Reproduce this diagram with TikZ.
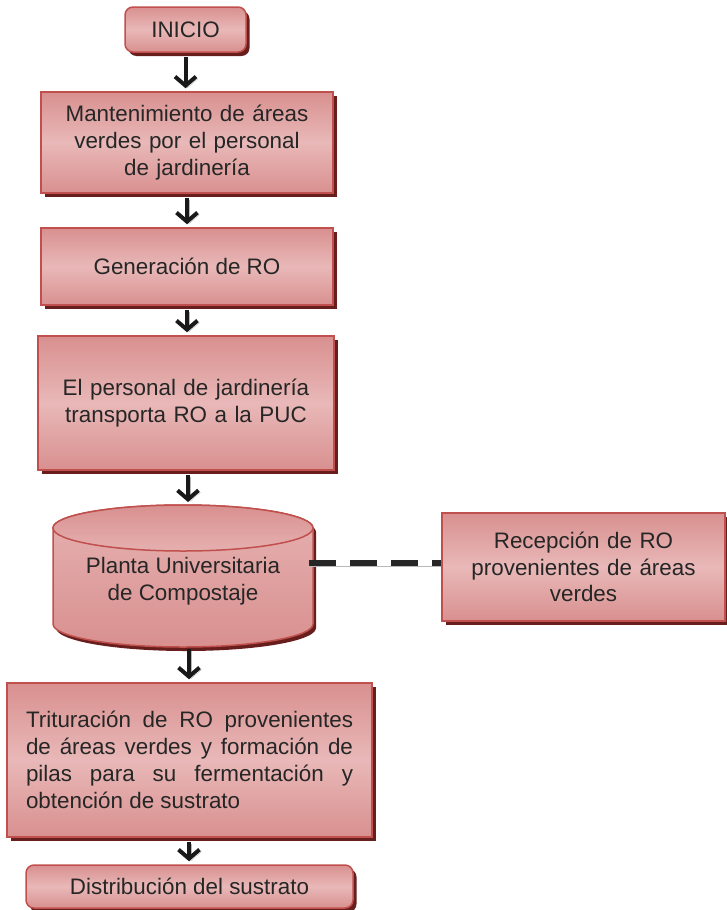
\documentclass[tikz,border=0pt]{standalone}
\usepackage{fontspec}
\setmainfont{Liberation Sans}
\usetikzlibrary{arrows.meta,shadows}
\setlength{\parindent}{0pt}
\definecolor{pkedge}{RGB}{216,144,143}
\definecolor{pkmid}{RGB}{233,184,184}
\definecolor{bdred}{RGB}{192,80,77}
\definecolor{shred}{RGB}{105,30,30}
\definecolor{txt}{RGB}{38,38,38}
\begin{document}
\begin{tikzpicture}[x=1pt,y=1pt,
  proc/.style={draw=bdred, line width=1.5pt, top color=pkedge, bottom color=pkedge, middle color=pkmid,
    text=txt, font=\fontsize{22.4}{26.8}\selectfont, align=center, inner sep=0pt,
    drop shadow={shadow xshift=3.5pt, shadow yshift=-4pt, fill=shred, opacity=1}},
  term/.style={proc, rounded corners=8pt},
  flow/.style={line width=4pt, draw=black!90, -{Straight Barb[length=9pt,width=21pt,line width=4pt]},
    shorten <=4.5pt, shorten >=3pt,
    preaction={draw=gray!55, transform canvas={xshift=2pt,yshift=-2pt}}},
  link/.style={line width=6.5pt, draw=black!85, dash pattern=on 27pt off 14pt,
    preaction={draw=gray!55, transform canvas={yshift=-3pt}}},
  cyltext/.style={text=txt, font=\fontsize{22.4}{26.8}\selectfont, align=center, inner sep=0pt}
]
\useasboundingbox (0,0) rectangle (727,-910);

% Nodes
\node[term, minimum width=121pt, minimum height=45pt] (inicio) at (185.5,-29.5) {INICIO};
\node[proc, minimum width=292pt, minimum height=101pt, text width=280pt] (mant) at (187,-142.5)
  {Mantenimiento de áreas\\ verdes por el personal\\ de jardinería};
\node[proc, minimum width=292pt, minimum height=77pt] (gen) at (187,-266.5) {Generación de RO};
\node[proc, minimum width=296pt, minimum height=134pt, text width=280pt] (trans) at (186,-403)
  {El personal de jardinería\\ transporta RO a la PUC};

% Cylinder (Planta Universitaria de Compostaje)
\fill[shred, shift={(3pt,-4pt)}] (53,-528) -- (53,-624) arc[start angle=180,end angle=360,x radius=130pt,y radius=23pt]
  -- (313,-528) arc[start angle=0,end angle=180,x radius=130pt,y radius=23pt] -- cycle;
\shade[top color=pkmid!85!pkedge, middle color=pkmid, bottom color=pkedge]
  (53,-528) -- (53,-624) arc[start angle=180,end angle=360,x radius=130pt,y radius=23pt]
  -- (313,-528) arc[start angle=0,end angle=180,x radius=130pt,y radius=23pt] -- cycle;
\draw[bdred, line width=1.5pt]
  (53,-528) -- (53,-624) arc[start angle=180,end angle=360,x radius=130pt,y radius=23pt]
  -- (313,-528) arc[start angle=0,end angle=180,x radius=130pt,y radius=23pt] -- cycle;
\shade[top color=pkedge, bottom color=pkmid!80!pkedge] (183,-528) ellipse[x radius=130pt, y radius=23pt];
\draw[bdred, line width=1.5pt] (183,-528) ellipse[x radius=130pt, y radius=23pt];
\node[cyltext] (cyl) at (183,-581) {Planta Universitaria\\ de Compostaje};
\coordinate (cyltop) at (183,-505);
\coordinate (cylbot) at (183,-647);
\coordinate (cylE) at (309,-563);

\node[proc, minimum width=283pt, minimum height=108pt, text width=270pt] (recep) at (583.5,-567)
  {Recepción de RO\\ provenientes de áreas\\ verdes};

\node[proc, minimum width=365pt, minimum height=154pt, text width=327pt, align=justify] (trit) at (189.5,-760)
  {Trituración de RO provenientes\linebreak de áreas verdes y formación de\linebreak pilas para su fermentación y\linebreak obtención de sustrato};
\node[term, minimum width=327pt, minimum height=43pt] (dist) at (189.5,-886.5) {Distribución del sustrato};

% Connectors
\draw[flow] (inicio.south) -- (inicio.south |- mant.north);
\draw[flow] (mant.south) -- (mant.south |- gen.north);
\draw[flow] (gen.south) -- (gen.south |- trans.north);
\draw[flow] ([xshift=2pt]trans.south) -- ([xshift=2pt]trans.south |- cyltop);
\draw[flow, shorten <=2pt] ([xshift=6pt]cylbot) -- ([xshift=6pt]cylbot |- trit.north);
\draw[flow] ([xshift=-0.5pt]trit.south) -- ([xshift=-0.5pt]trit.south |- dist.north);
\draw[link] (cylE) -- (cylE -| recep.west);
\end{tikzpicture}
\end{document}
